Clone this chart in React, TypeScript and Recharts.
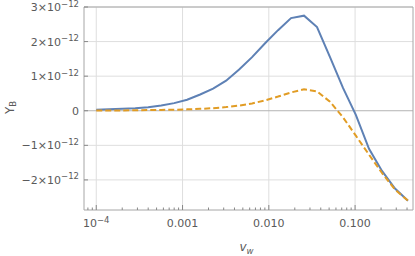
import React from "react";
import { LineChart, Line, XAxis, YAxis, ReferenceLine } from "recharts";

// v_w sample points
const vw = [
  0.0001, 0.000141, 0.0002, 0.000283, 0.0004, 0.000566, 0.0008, 0.00113,
  0.0016, 0.00226, 0.0032, 0.00453, 0.0064, 0.00905, 0.0128, 0.0181,
  0.0256, 0.0362, 0.0512, 0.0724, 0.102, 0.145, 0.205, 0.29, 0.41,
];
// Y_B in units of 10^-12
const yBlue = [
  0.03, 0.04, 0.055, 0.07, 0.1, 0.15, 0.22, 0.32, 0.47, 0.64, 0.87, 1.19,
  1.55, 1.95, 2.33, 2.68, 2.75, 2.42, 1.55, 0.66, -0.12, -1.1, -1.74, -2.25,
  -2.6,
];
const yOrange = [
  0.005, 0.008, 0.01, 0.015, 0.02, 0.025, 0.03, 0.04, 0.055, 0.075, 0.105,
  0.15, 0.21, 0.3, 0.41, 0.53, 0.62, 0.56, 0.26, -0.19, -0.72, -1.27, -1.8,
  -2.28, -2.6,
];

const xMajorTicks = [0.0001, 0.001, 0.01, 0.1];
const xMajorLabels = ["10|−4", "0.001", "0.010", "0.100"];
const xMinorTicks = [
  0.00008, 0.00009,
  0.0002, 0.0003, 0.0004, 0.0005, 0.0006, 0.0007, 0.0008, 0.0009,
  0.002, 0.003, 0.004, 0.005, 0.006, 0.007, 0.008, 0.009,
  0.02, 0.03, 0.04, 0.05, 0.06, 0.07, 0.08, 0.09,
  0.2, 0.3, 0.4,
];
const yTicks = [-2, -1, 0, 1, 2, 3];
const yLabels = ["−2×10|−12", "−1×10|−12", "0", "1×10|−12", "2×10|−12", "3×10|−12"];

const xDomain: [number, number] = [0.0000721, 0.469];
const yDomain: [number, number] = [-2.87, 3.0];

const data = vw.map((v, i) => ({ vw: v, blue: yBlue[i], orange: yOrange[i] }));

const FONT = "'DejaVu Sans', 'Liberation Sans', Arial, sans-serif";
const TEXT = "#5a5a5a";
const TICK = "#888";
const FRAME = "#a6a6a6";
const GRID = "#dedede";

function renderLabel(label: string) {
  const [base, sup] = label.split("|");
  return (
    <>
      {base}
      {sup !== undefined && (
        <tspan dy={-4.5} fontSize={8.5}>
          {sup}
        </tspan>
      )}
    </>
  );
}

function XTick(props: any) {
  const { x, y, payload } = props;
  const v = payload.value;
  const idx = xMajorTicks.findIndex((m) => Math.abs(m - v) / m < 1e-6);
  if (idx < 0) {
    return <line x1={x} x2={x} y1={y} y2={y - 2.5} stroke={TICK} strokeWidth={1} />;
  }
  return (
    <g>
      <line x1={x} x2={x} y1={y} y2={y - 5} stroke={TICK} strokeWidth={1} />
      <text x={x} y={y + 17} textAnchor="middle" fontSize={11} fill={TEXT} fontFamily={FONT}>
        {renderLabel(xMajorLabels[idx])}
      </text>
    </g>
  );
}

function YTick(props: any) {
  const { x, y, payload } = props;
  const idx = yTicks.findIndex((t) => Math.abs(t - payload.value) < 1e-9);
  return (
    <g>
      <line x1={x} x2={x + 4} y1={y} y2={y} stroke={TICK} strokeWidth={1} />
      <text x={x - 5} y={y + 4} textAnchor="end" fontSize={11} fill={TEXT} fontFamily={FONT}>
        {renderLabel(idx >= 0 ? yLabels[idx] : String(payload.value))}
      </text>
    </g>
  );
}

function YTitle(props: any) {
  const vb = props.viewBox || { x: 9, y: 7, width: 75, height: 203 };
  const cx = 10;
  const cy = vb.y + vb.height / 2 - 1;
  return (
    <text
      x={cx}
      y={cy}
      transform={`rotate(-90 ${cx} ${cy})`}
      textAnchor="middle"
      dominantBaseline="central"
      fontSize={12}
      fill={TEXT}
      fontFamily={FONT}
    >
      Y
      <tspan dy={3} fontSize={8.5}>
        B
      </tspan>
    </text>
  );
}

function XTitle(props: any) {
  const vb = props.viewBox || { x: 84, y: 210, width: 329, height: 46 };
  const cx = vb.x + vb.width / 2 - 2;
  const cy = 251;
  return (
    <text x={cx} y={cy} textAnchor="middle" fontSize={12} fill={TEXT} fontFamily={FONT} fontStyle="italic">
      v
      <tspan dy={3} fontSize={8.5}>
        w
      </tspan>
    </text>
  );
}

export default function App() {
  return (
    <div style={{ position: "absolute", left: 0, top: 0, width: 415, height: 256, background: "#fff" }}>
      <LineChart
        width={415}
        height={256}
        data={data}
        margin={{ top: 7, right: 2, left: 9, bottom: 0 }}
      >
        <XAxis
          dataKey="vw"
          type="number"
          scale="log"
          domain={xDomain}
          allowDataOverflow
          ticks={[...xMajorTicks, ...xMinorTicks]}
          interval={0}
          tick={<XTick />}
          tickLine={false}
          tickSize={0}
          tickMargin={0}
          height={46}
          axisLine={{ stroke: FRAME }}
          label={<XTitle />}
        />
        <YAxis
          type="number"
          domain={yDomain}
          allowDataOverflow
          ticks={yTicks}
          interval={0}
          tick={<YTick />}
          tickLine={false}
          tickSize={0}
          tickMargin={0}
          width={75}
          axisLine={{ stroke: FRAME }}
          label={<YTitle />}
        />
        {xMajorTicks.map((t) => (
          <ReferenceLine key={"vx" + t} x={t} stroke={GRID} strokeWidth={1} />
        ))}
        {yTicks.map((t) => (
          <ReferenceLine
            key={"hy" + t}
            y={t}
            stroke={t === 0 ? "#b4b4b4" : GRID}
            strokeWidth={1}
          />
        ))}
        <ReferenceLine y={yDomain[1]} stroke={FRAME} strokeWidth={1} />
        <ReferenceLine x={xDomain[1]} stroke={FRAME} strokeWidth={1} />
        <Line
          dataKey="blue"
          type="linear"
          stroke="#5E81B5"
          strokeWidth={2}
          dot={false}
          isAnimationActive={false}
        />
        <Line
          dataKey="orange"
          type="linear"
          stroke="#E19C24"
          strokeWidth={2}
          strokeDasharray="6 3"
          dot={false}
          isAnimationActive={false}
        />
      </LineChart>
    </div>
  );
}
